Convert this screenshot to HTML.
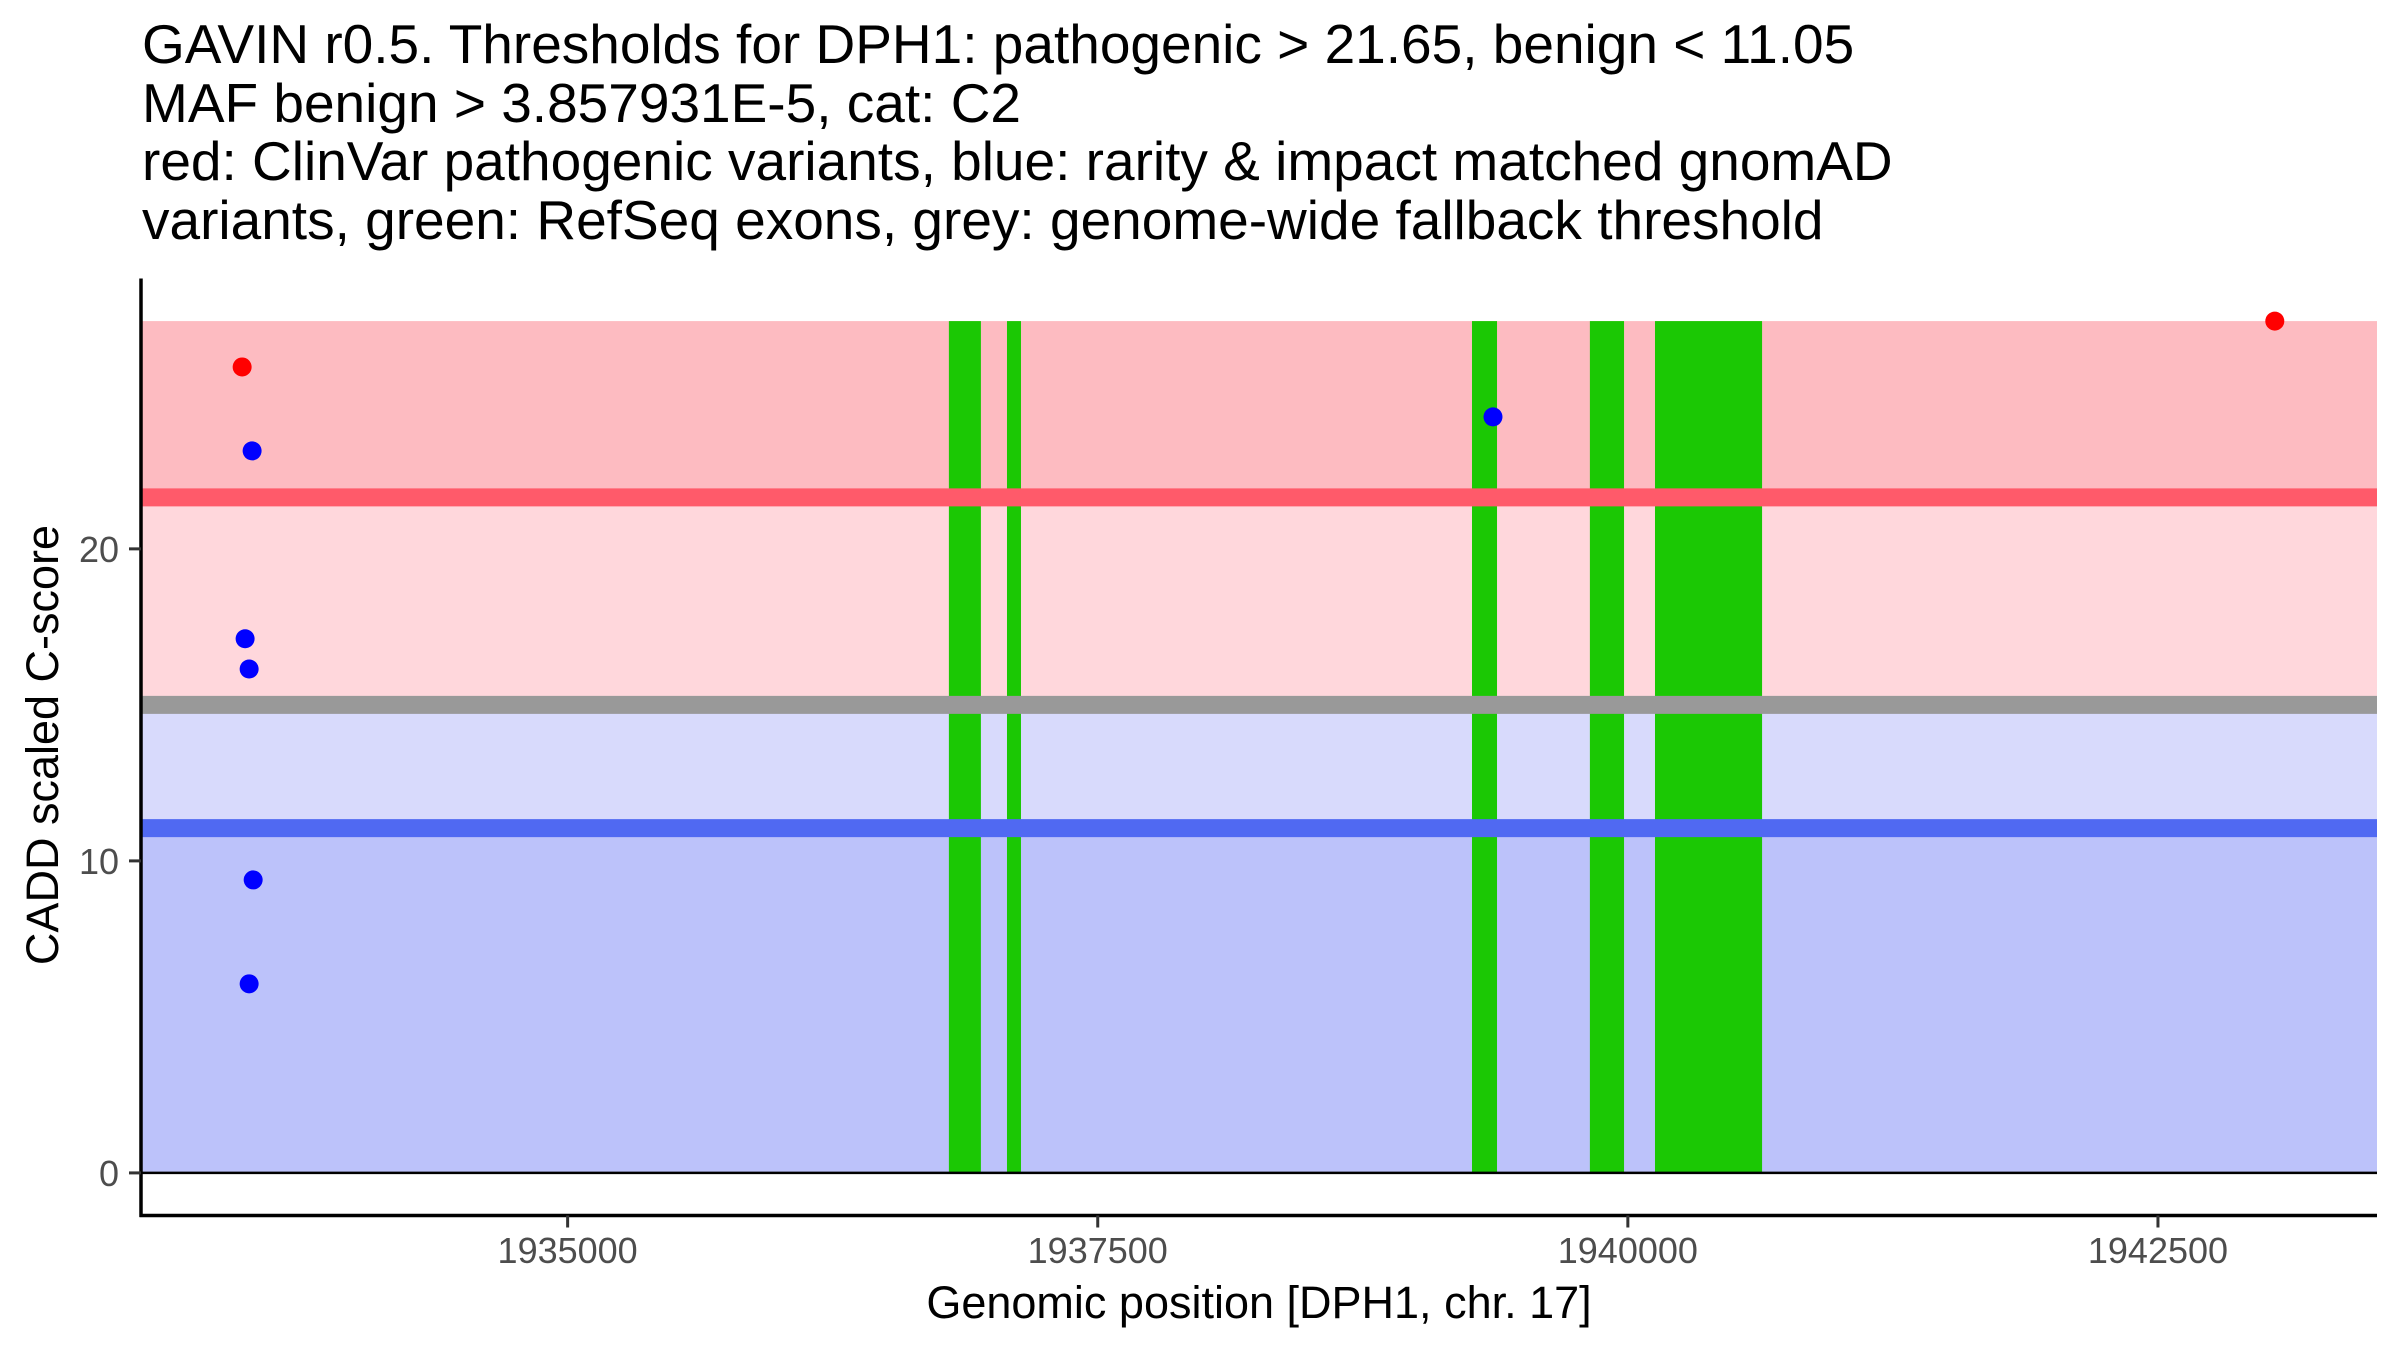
<!DOCTYPE html>
<html><head><meta charset="utf-8">
<style>
html,body{margin:0;padding:0;background:#fff;}
svg{display:block;font-family:"Liberation Sans",Arial,sans-serif;}
</style></head>
<body>
<svg id="chart" width="2400" height="1350" viewBox="0 0 2400 1350" xmlns="http://www.w3.org/2000/svg">
<g font-size="55" fill="#000">
<text x="142" y="63">GAVIN r0.5. Thresholds for DPH1: pathogenic &gt; 21.65, benign &lt; 11.05</text>
<text x="142" y="122">MAF benign &gt; 3.857931E-5, cat: C2</text>
<text x="142" y="180">red: ClinVar pathogenic variants, blue: rarity &amp; impact matched gnomAD</text>
<text x="142" y="239">variants, green: RefSeq exons, grey: genome-wide fallback threshold</text>
</g>
<g id="bands"></g>
<g id="exons"></g>
<g id="lines"></g>
<g id="points"></g>
<g id="axes"></g>
<text x="1259" y="1318" font-size="45" text-anchor="middle" fill="#000">Genomic position [DPH1, chr. 17]</text>
<text transform="translate(58,745) rotate(-90)" font-size="45" text-anchor="middle" fill="#000">CADD scaled C-score</text>
</svg>
<script>
const pathoThreshold = 21.65;
const benignThreshold = 11.05;
const fallbackThreshold = 15.0;
const maxScore = 27.3;
const exonStarts = [1936798, 1937072, 1939265, 1939821, 1940128];
const exonEnds   = [1936949, 1937138, 1939383, 1939982, 1940633];
const pathoPos   = [1933465, 1943051];
const pathoScore = [25.83, 27.3];
const benignPos   = [1933512, 1933479, 1933498, 1933517, 1933498, 1939364];
const benignScore = [23.14, 17.12, 16.15, 9.39, 6.06, 24.23];
const xTicks = [1935000, 1937500, 1940000, 1942500];
const yTicks = [0, 10, 20];

const NS = "http://www.w3.org/2000/svg";
const X0 = 141, X1 = 2377, Y0 = 1215.5, Y1 = 278.5;
const xMin = 1932988, xMax = 1943533;
const yMin = -1.365, yMax = 28.665;
function xs(v){ return X0 + (v - xMin) / (xMax - xMin) * (X1 - X0); }
function ys(v){ return Y0 - (v - yMin) / (yMax - yMin) * (Y0 - Y1); }
function mk(tag, attrs, parent){
  const e = document.createElementNS(NS, tag);
  for (const k in attrs) e.setAttribute(k, attrs[k]);
  parent.appendChild(e);
  return e;
}
const bands = document.getElementById('bands');
const bandDefs = [
  [pathoThreshold, maxScore, '#FDBBC1', 'band-pathogenic'],
  [fallbackThreshold, pathoThreshold, '#FFD7DC', 'band-fallback-pathogenic'],
  [benignThreshold, fallbackThreshold, '#D8DAFC', 'band-fallback-benign'],
  [0, benignThreshold, '#BCC2FA', 'band-benign']
];
bandDefs.forEach(b => {
  const r = mk('rect', {x: X0, y: ys(b[1]), width: X1 - X0, height: ys(b[0]) - ys(b[1]), fill: b[2]}, bands);
  
  
});
const exons = document.getElementById('exons');
exonStarts.forEach((s, i) => {
  const r = mk('rect', {x: xs(s), y: ys(maxScore), width: xs(exonEnds[i]) - xs(s), height: ys(0) - ys(maxScore), fill: '#1BC804'}, exons);
  
  
});
const lines = document.getElementById('lines');
[[pathoThreshold, '#FF5A6A', 'pathogenic-threshold-line'], [fallbackThreshold, '#999999', 'fallback-threshold-line'], [benignThreshold, '#5069F2', 'benign-threshold-line']].forEach(l => {
  const r = mk('rect', {x: X0, y: ys(l[0]) - 9, width: X1 - X0, height: 18, fill: l[1]}, lines);
  
  
});
const zl = mk('line', {x1: X0, x2: X1, y1: ys(0), y2: ys(0), stroke: '#000', 'stroke-width': 2.5}, lines);


const pts = document.getElementById('points');
benignPos.forEach((p, i) => {
  const c = mk('circle', {cx: xs(p), cy: ys(benignScore[i]), r: 9.5, fill: '#0000FF'}, pts);
  
  
});
pathoPos.forEach((p, i) => {
  const c = mk('circle', {cx: xs(p), cy: ys(pathoScore[i]), r: 9.5, fill: '#FF0000'}, pts);
  
  
});
const ax = document.getElementById('axes');
const yl = mk('line', {x1: X0, x2: X0, y1: Y1, y2: Y0 + 1.5, stroke: '#000', 'stroke-width': 3.5}, ax);


const xl = mk('line', {x1: X0 - 1.5, x2: X1, y1: Y0, y2: Y0, stroke: '#000', 'stroke-width': 3.5}, ax);


yTicks.forEach(t => {
  const tk = mk('line', {x1: X0 - 12, x2: X0, y1: ys(t), y2: ys(t), stroke: '#333', 'stroke-width': 3}, ax);
  
  
  const tx = mk('text', {x: X0 - 22, y: ys(t) + 13, 'font-size': 36, 'text-anchor': 'end', fill: '#4D4D4D'}, ax);
  tx.textContent = String(t);
  
  
});
xTicks.forEach(t => {
  const tk = mk('line', {x1: xs(t), x2: xs(t), y1: Y0, y2: Y0 + 12, stroke: '#333', 'stroke-width': 3}, ax);
  
  
  const tx = mk('text', {x: xs(t), y: 1263, 'font-size': 36, 'text-anchor': 'middle', fill: '#4D4D4D'}, ax);
  tx.textContent = String(t);
  
  
});
</script>
</body></html>
